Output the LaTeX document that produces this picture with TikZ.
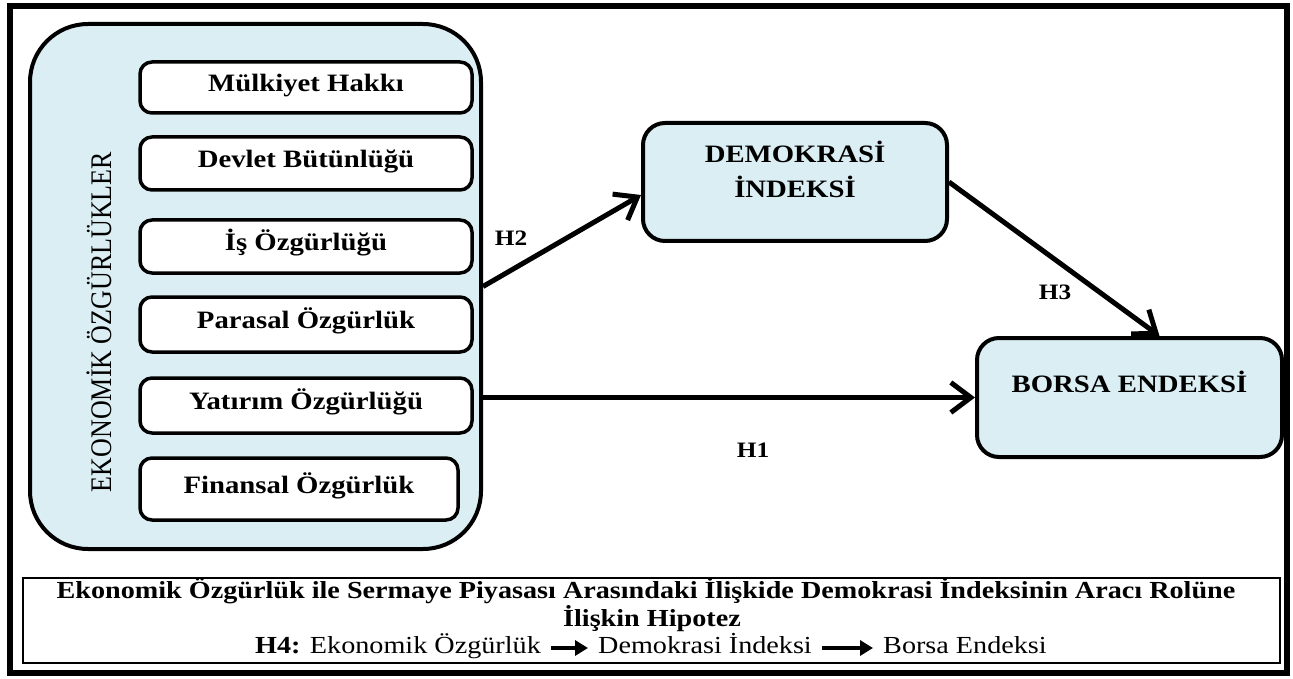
\documentclass[tikz,border=0pt]{standalone}
\usepackage{fontspec}
\setmainfont{Liberation Serif}
\usepackage{graphicx}
\usetikzlibrary{arrows.meta,positioning}
\definecolor{boxblue}{HTML}{DAEEF3}
\newcommand{\wtxt}[1]{\scalebox{1.15}[1]{#1}}
\tikzset{
    groupbox/.style={draw, line width=4pt, fill=boxblue, rounded corners=58pt, minimum width=451pt, minimum height=525pt},
    itembox/.style={draw, line width=3.5pt, fill=white, rounded corners=12pt, text height=18pt, text depth=10pt, inner sep=0pt, font=\fontsize{25}{30}\selectfont\bfseries},
    varbox/.style={draw, line width=4pt, fill=boxblue, rounded corners=22pt},
    vartext/.style={font=\fontsize{25}{35}\selectfont\bfseries, align=center, inner sep=0pt},
    hyparrow/.style={line width=5pt, -{Straight Barb[length=20pt,width=30pt]}},
    hyplabel/.style={font=\fontsize{22}{26}\selectfont\bfseries},
    notetext/.style={font=\fontsize{24.5}{28}\selectfont, inner sep=0pt},
    minarrow/.style={line width=4pt, -{Triangle[length=13pt,width=15pt]}, shorten <=10pt, shorten >=10pt}
}

\begin{document}
\begin{tikzpicture}[x=1pt, y=-1pt]
    \useasboundingbox (0,0) rectangle (1293,679);

    % Draw outer frame.
    \draw[line width=6pt] (9.5,6.5) rectangle (1286.5,673);

    % Draw economic freedom group.
    \node[groupbox] (ef) at (255.5,286.5) {};
    \node[rotate=90, font=\fontsize{26}{30}\selectfont] (eft) at (99,322) {\scalebox{1}[1.15]{EKONOMİK ÖZGÜRLÜKLER}};
    \foreach \t/\n/\y/\w/\h/\x in {Mülkiyet Hakkı/mh/87.5/332/51/306, Devlet Bütünlüğü/db/163.5/332/53/306, İş Özgürlüğü/io/246.5/332/53/306, Parasal Özgürlük/po/324.5/332/55/306, Yatırım Özgürlüğü/yo/405.5/332/55/306, Finansal Özgürlük/fo/489/318/62/299}
        \node[itembox, minimum width=\w, minimum height=\h] (\n) at (\x,\y) {\wtxt{\t}};

    % Draw democracy and stock index boxes.
    \node[varbox, minimum width=304, minimum height=118] (di) at (795,182) {};
    \node[vartext] (dit) at ([yshift=13pt]di.center) {\wtxt{DEMOKRASİ}\\\wtxt{İNDEKSİ}};
    \node[varbox, minimum width=305, minimum height=119] (bo) at (1129.5,397.5) {};
    \node[vartext] (bot) at ([yshift=16pt]bo.center) {\wtxt{BORSA ENDEKSİ}};

    % Draw hypothesis arrows.
    \draw[hyparrow] (ef.east) -- ([yshift=-13pt]di.west);
    \draw[hyparrow] (di.east) -- ([xshift=30pt]bo.north);
    \draw[hyparrow] (ef.east |- bo.west) -- (bo.west);
    \node[hyplabel] (h2) at (511,238) {\wtxt{H2}};
    \node[hyplabel] (h3) at (1055,292) {\wtxt{H3}};
    \node[hyplabel] (h1) at (753,450) {\wtxt{H1}};

    % Draw note box.
    \draw[line width=1.5pt] (23,578) rectangle (1280,663);
    \node[notetext, anchor=base, font=\fontsize{24.5}{28}\selectfont\bfseries] (n1) at (646,598) {\wtxt{Ekonomik Özgürlük ile Sermaye Piyasası Arasındaki İlişkide Demokrasi İndeksinin Aracı Rolüne}};
    \node[notetext, anchor=base, font=\fontsize{24.5}{28}\selectfont\bfseries] (n2) at (652,626) {\wtxt{İlişkin Hipotez}};
    \node[notetext, anchor=base west] (h4a) at (255,653) {\wtxt{\textbf{H4:} Ekonomik Özgürlük}};
    \node[notetext, anchor=base west] (h4b) at (598,653) {\wtxt{Demokrasi İndeksi}};
    \node[notetext, anchor=base west] (h4c) at (883,653) {\wtxt{Borsa Endeksi}};
    \draw[minarrow] ([yshift=5pt]h4a.base east) -- ([yshift=5pt]h4b.base west);
    \draw[minarrow] ([yshift=5pt]h4b.base east) -- ([yshift=5pt]h4c.base west);
\end{tikzpicture}
\end{document}
